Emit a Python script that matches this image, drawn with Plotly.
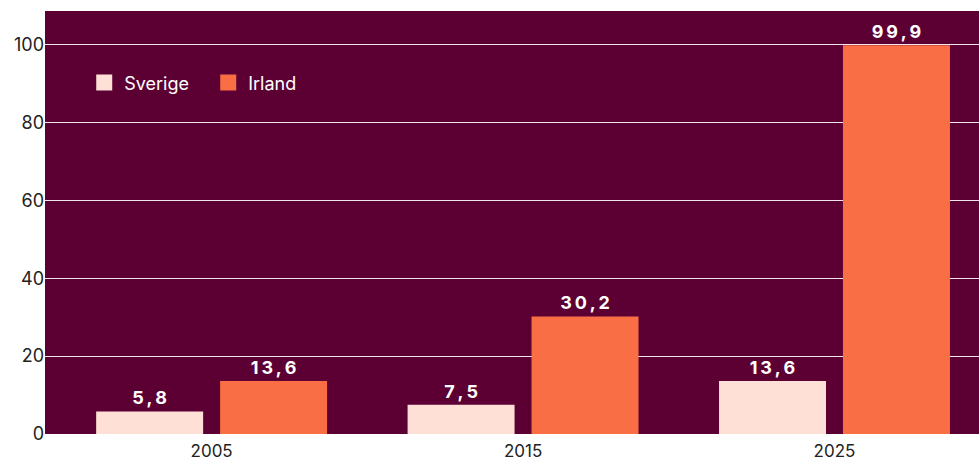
import plotly.graph_objects as go

years = ["2005", "2015", "2025"]
sverige = [5.8, 7.5, 13.6]
irland = [13.6, 30.2, 99.9]
y_ticks = [0, 20, 40, 60, 80, 100]

bg_color = "#5c0033"
sverige_color = "#ffe0d6"
irland_color = "#f96e45"
font_family = "Inter, 'Noto Sans', sans-serif"


def label(v):
    # decimal comma, slightly spaced out like the original
    return "\u2009".join(f"{v:.1f}".replace(".", ","))


fig = go.Figure()

for name, values, color in [("Sverige", sverige, sverige_color),
                            ("Irland", irland, irland_color)]:
    fig.add_trace(go.Bar(
        x=years,
        y=values,
        name=name,
        marker=dict(color=color, line=dict(width=0)),
        text=[label(v) for v in values],
        textposition="outside",
        cliponaxis=False,
        textfont=dict(color="#ffffff", size=18, family=font_family,
                      weight="bold"),
        showlegend=False,
    ))
    # Legend entry with a bigger square swatch
    fig.add_trace(go.Scatter(
        x=[None], y=[None], mode="markers", name=name,
        marker=dict(symbol="square", size=18, color=color),
    ))

fig.update_layout(
    width=979,
    height=460,
    margin=dict(l=45, r=0, t=11, b=26),
    paper_bgcolor="#ffffff",
    plot_bgcolor=bg_color,
    barmode="group",
    bargap=0.204,
    bargroupgap=0.137,
    font=dict(family=font_family, color="#222222", size=18),
    legend=dict(
        orientation="h",
        x=0.042, y=0.83,
        xanchor="left", yanchor="middle",
        bgcolor="rgba(0,0,0,0)",
        font=dict(color="#ffffff", size=18),
        itemwidth=30,
        entrywidth=79,
        traceorder="normal",
    ),
)

fig.update_xaxes(
    range=[-0.535, 2.464],
    automargin=False,
    showgrid=False,
    showline=False,
    zeroline=False,
    ticks="outside",
    ticklen=2,
    tickcolor="rgba(0,0,0,0)",
    tickfont=dict(size=17, color="#222222"),
)

fig.update_yaxes(
    range=[0, 108.7],
    tickvals=y_ticks,
    showgrid=True,
    gridcolor="rgba(255,255,255,0.9)",
    gridwidth=1,
    zeroline=False,
    ticks="",
    tickfont=dict(size=18, color="#222222"),
)

fig.write_html("out.html", config={"displayModeBar": False},
               post_script="document.body.style.margin='0';")
